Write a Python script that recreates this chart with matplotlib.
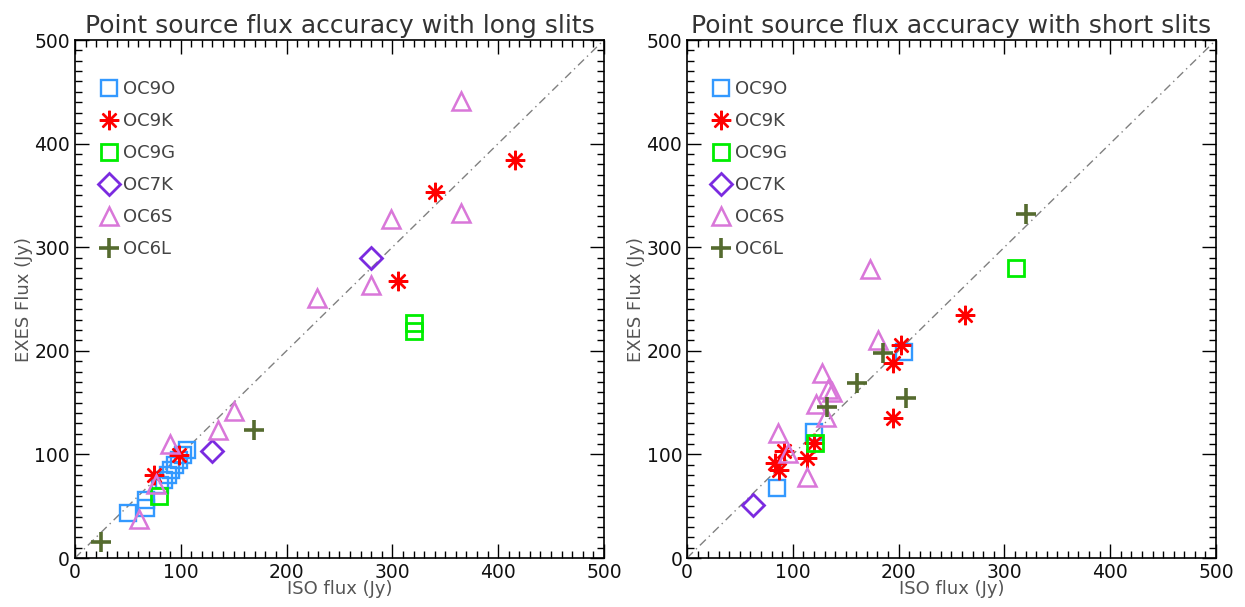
import matplotlib
matplotlib.use("Agg")
import matplotlib.pyplot as plt
from matplotlib.ticker import MultipleLocator

# long slits
long_9o_x = [50, 67, 67, 80, 84, 88, 91, 95, 98, 102, 106]
long_9o_y = [43, 48, 56, 70, 75, 80, 85, 90, 95, 99, 104]
long_9k_x = [75, 98, 305, 340, 416]
long_9k_y = [80, 99, 267, 353, 384]
long_9g_x = [79, 320, 320]
long_9g_y = [60, 227, 219]
long_7k_x = [130, 280]
long_7k_y = [103, 290]
long_6s_x = [365, 299, 365, 280, 229, 150, 135, 90, 77, 61]
long_6s_y = [441, 327, 333, 264, 251, 142, 124, 110, 71, 38]
long_6l_x = [25, 169]
long_6l_y = [15, 124]

# short slits
short_9o_x = [85, 120, 205]
short_9o_y = [68, 122, 199]
short_9k_x = [202, 195, 195, 120, 113, 92, 83, 87, 263]
short_9k_y = [206, 188, 135, 111, 97, 103, 92, 85, 235]
short_9g_x = [121, 311]
short_9g_y = [111, 280]
short_7k_x = [62]
short_7k_y = [51]
short_6s_x = [173, 181, 128, 133, 137, 122, 131, 86, 95, 113]
short_6s_y = [279, 210, 179, 163, 160, 149, 136, 121, 101, 78]
short_6l_x = [185, 161, 132, 207, 320]
short_6l_y = [198, 169, 146, 154, 332]

names = ["OC9O", "OC9K", "OC9G", "OC7K", "OC6S", "OC6L"]
colors = ["#3399ff", "#ff0000", "#00ee00", "#7b2be0", "#d977d9", "#556b2f"]
markers = ["s", (8, 2, 0), "s", "D", "^", "+"]
sizes = [11.5, 14, 11.5, 11, 13.5, 14]
widths = [1.7, 1.7, 2.0, 2.0, 1.8, 2.6]

plt.rcParams["font.family"] = "DejaVu Sans"
fig = plt.figure(figsize=(12.45, 6.07), dpi=100)

panels = [
    ("Point source flux accuracy with long slits", 0.0602,
     [(long_9o_x, long_9o_y), (long_9k_x, long_9k_y), (long_9g_x, long_9g_y),
      (long_7k_x, long_7k_y), (long_6s_x, long_6s_y), (long_6l_x, long_6l_y)]),
    ("Point source flux accuracy with short slits", 0.5518,
     [(short_9o_x, short_9o_y), (short_9k_x, short_9k_y), (short_9g_x, short_9g_y),
      (short_7k_x, short_7k_y), (short_6s_x, short_6s_y), (short_6l_x, short_6l_y)]),
]

for title, left, series in panels:
    ax = fig.add_axes([left, 0.0807, 0.4249, 0.8534])
    ax.plot([0, 500], [0, 500], color="gray", lw=1.0, ls=(0, (6, 3, 1, 3)))
    for (x, y), name, c, m, s, w in zip(series, names, colors, markers, sizes, widths):
        ax.plot(x, y, ls="none", marker=m, ms=s, mfc="none", mec=c, mew=w, label=name)
    ax.set_xlim(0, 500)
    ax.set_ylim(0, 500)
    ax.xaxis.set_major_locator(MultipleLocator(100))
    ax.yaxis.set_major_locator(MultipleLocator(100))
    ax.xaxis.set_minor_locator(MultipleLocator(10))
    ax.yaxis.set_minor_locator(MultipleLocator(10))
    ax.tick_params(which="both", direction="in", top=True, right=True,
                   width=1.0, labelsize=13.5, labelcolor="#111111")
    ax.tick_params(which="major", length=10)
    ax.tick_params(which="minor", length=5)
    for sp in ax.spines.values():
        sp.set_linewidth(1.2)
    ax.set_title(title, fontsize=18, color="#333333", pad=5)
    ax.set_xlabel("ISO flux (Jy)", fontsize=13, color="#555555", labelpad=-1)
    ax.set_ylabel("EXES Flux (Jy)", fontsize=13, color="#555555", labelpad=1)
    ax.legend(loc="upper left", bbox_to_anchor=(0.033, 0.937), frameon=False,
              fontsize=13, labelcolor="#444444", handlelength=1.0,
              handletextpad=0.3, labelspacing=0.78, borderaxespad=0)

fig.savefig("out.png", dpi=100)
